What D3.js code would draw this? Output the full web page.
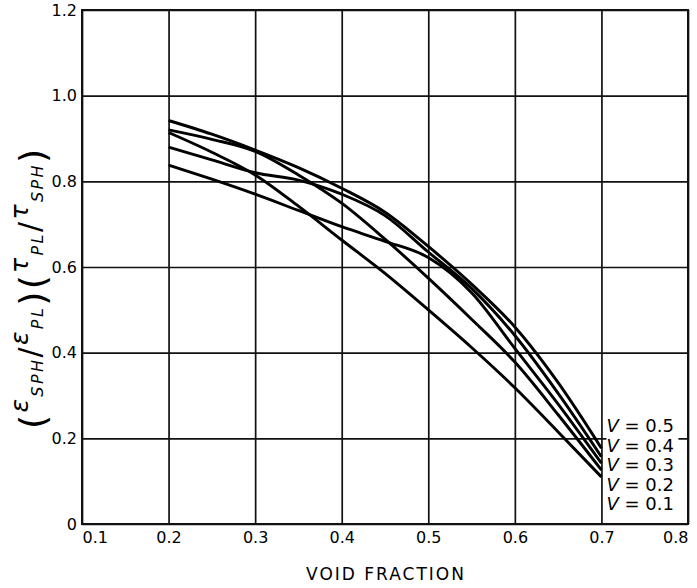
<!DOCTYPE html>
<html>
<head>
<meta charset="utf-8">
<script src="https://cdn.jsdelivr.net/npm/d3@7"></script>
<style>
  body { margin: 0; background: #fff; }
  svg { display: block; font-family: "DejaVu Sans", sans-serif; }
</style>
</head>
<body>
<div id="chart"></div>
<script>
// values
const voidFraction = [0.2, 0.25, 0.3, 0.35, 0.4, 0.45, 0.5, 0.55, 0.6, 0.65, 0.7];
const v05 = [0.942, 0.910, 0.873, 0.832, 0.784, 0.728, 0.648, 0.560, 0.460, 0.330, 0.177];
const v04 = [0.880, 0.850, 0.820, 0.803, 0.770, 0.720, 0.635, 0.550, 0.440, 0.305, 0.157];
const v03 = [0.838, 0.805, 0.770, 0.732, 0.694, 0.660, 0.622, 0.540, 0.410, 0.280, 0.142];
const v02 = [0.920, 0.898, 0.870, 0.815, 0.749, 0.665, 0.574, 0.478, 0.378, 0.255, 0.126];
const v01 = [0.914, 0.868, 0.815, 0.742, 0.663, 0.585, 0.500, 0.412, 0.318, 0.215, 0.110];
const seriesLabels = ["0.5", "0.4", "0.3", "0.2", "0.1"];
const xTicks = [0.1, 0.2, 0.3, 0.4, 0.5, 0.6, 0.7, 0.8];
const yTicks = [0, 0.2, 0.4, 0.6, 0.8, 1.0, 1.2];
const xTitle = "VOID FRACTION";

const series = [v05, v04, v03, v02, v01];

const W = 697, H = 588;
const pL = 82, pR = 688, pT = 10, pB = 524;

const svg = d3.select("#chart").append("svg")
    .attr("width", W)
    .attr("height", H);

const x = d3.scaleLinear().domain([0.1, 0.8]).range([pL, pR]);
const y = d3.scaleLinear().domain([0, 1.2]).range([pB, pT]);

// grid + tick labels
const xAxis = svg.append("g")
    .attr("transform", `translate(0,${pB})`)
    .call(d3.axisBottom(x).tickValues(xTicks).tickSize(-(pB - pT))
        .tickPadding(8).tickFormat(d => d.toFixed(1)));

const yAxis = svg.append("g")
    .attr("transform", `translate(${pL},0)`)
    .call(d3.axisLeft(y).tickValues(yTicks).tickSize(-(pR - pL))
        .tickPadding(5).tickFormat(d => d === 0 ? "0" : d.toFixed(1)));

[xAxis, yAxis].forEach(g => {
  g.select(".domain").remove();
  g.selectAll(".tick line").attr("stroke", "#111").attr("stroke-width", 1.7);
  g.selectAll(".tick text").attr("fill", "#000").attr("font-size", 16)
      .attr("font-family", "DejaVu Sans, sans-serif");
});
xAxis.selectAll(".tick text")
    .attr("text-anchor", d => d === 0.1 ? "start" : d === 0.8 ? "end" : "middle");

svg.append("rect")
    .attr("x", pL).attr("y", pT)
    .attr("width", pR - pL).attr("height", pB - pT)
    .attr("fill", "none").attr("stroke", "#111").attr("stroke-width", 2);

// curves
const line = d3.line()
    .x((d, i) => x(voidFraction[i]))
    .y(d => y(d))
    .curve(d3.curveMonotoneX);

svg.selectAll("path.curve")
    .data(series)
    .enter().append("path")
    .attr("class", "curve")
    .attr("d", line)
    .attr("fill", "none")
    .attr("stroke", "#000")
    .attr("stroke-width", 2.9);

// labels at the right end
const lx = x(0.7) + 5;
svg.append("rect")
    .attr("x", lx).attr("y", 415)
    .attr("width", 72).attr("height", 98)
    .attr("fill", "#fff");

const lab = svg.selectAll("text.vlab")
    .data(seriesLabels)
    .enter().append("text")
    .attr("class", "vlab")
    .attr("x", lx)
    .attr("y", (d, i) => 432 + i * 19.5)
    .attr("font-size", 18)
    .attr("fill", "#000");
lab.append("tspan").attr("font-style", "italic").text("V");
lab.append("tspan").text(d => " = " + d);

// x title
svg.append("text")
    .attr("x", 386).attr("y", 580)
    .attr("text-anchor", "middle")
    .attr("font-size", 17)
    .attr("letter-spacing", 2)
    .attr("fill", "#000")
    .text(xTitle);

// y title
const yt = svg.append("text")
    .attr("transform", "translate(28,289) rotate(-90)")
    .attr("text-anchor", "middle")
    .attr("textLength", 280)
    .attr("lengthAdjust", "spacing")
    .attr("fill", "#000")
    .attr("font-style", "italic");

const parts = [
  ["(", 36, 17, "normal"], ["\u03B5", 25, -17, "italic"], ["SPH", 16, 15, "italic"],
  ["/", 30, -3, "normal"], ["\u03B5", 25, -12, "italic"], ["PL", 16, 15, "italic"],
  [")", 36, 2, "normal"], ["(", 36, 0, "normal"], ["\u03C4", 25, -17, "italic"],
  ["PL", 16, 15, "italic"], ["/", 30, -3, "normal"], ["\u03C4", 25, -12, "italic"],
  ["SPH", 16, 15, "italic"], [")", 36, 2, "normal"]
];
parts.forEach(p => {
  yt.append("tspan")
    .attr("font-size", p[1])
    .attr("dy", p[2])
    .attr("font-style", p[3])
    .text(p[0]);
});
</script>
</body>
</html>
